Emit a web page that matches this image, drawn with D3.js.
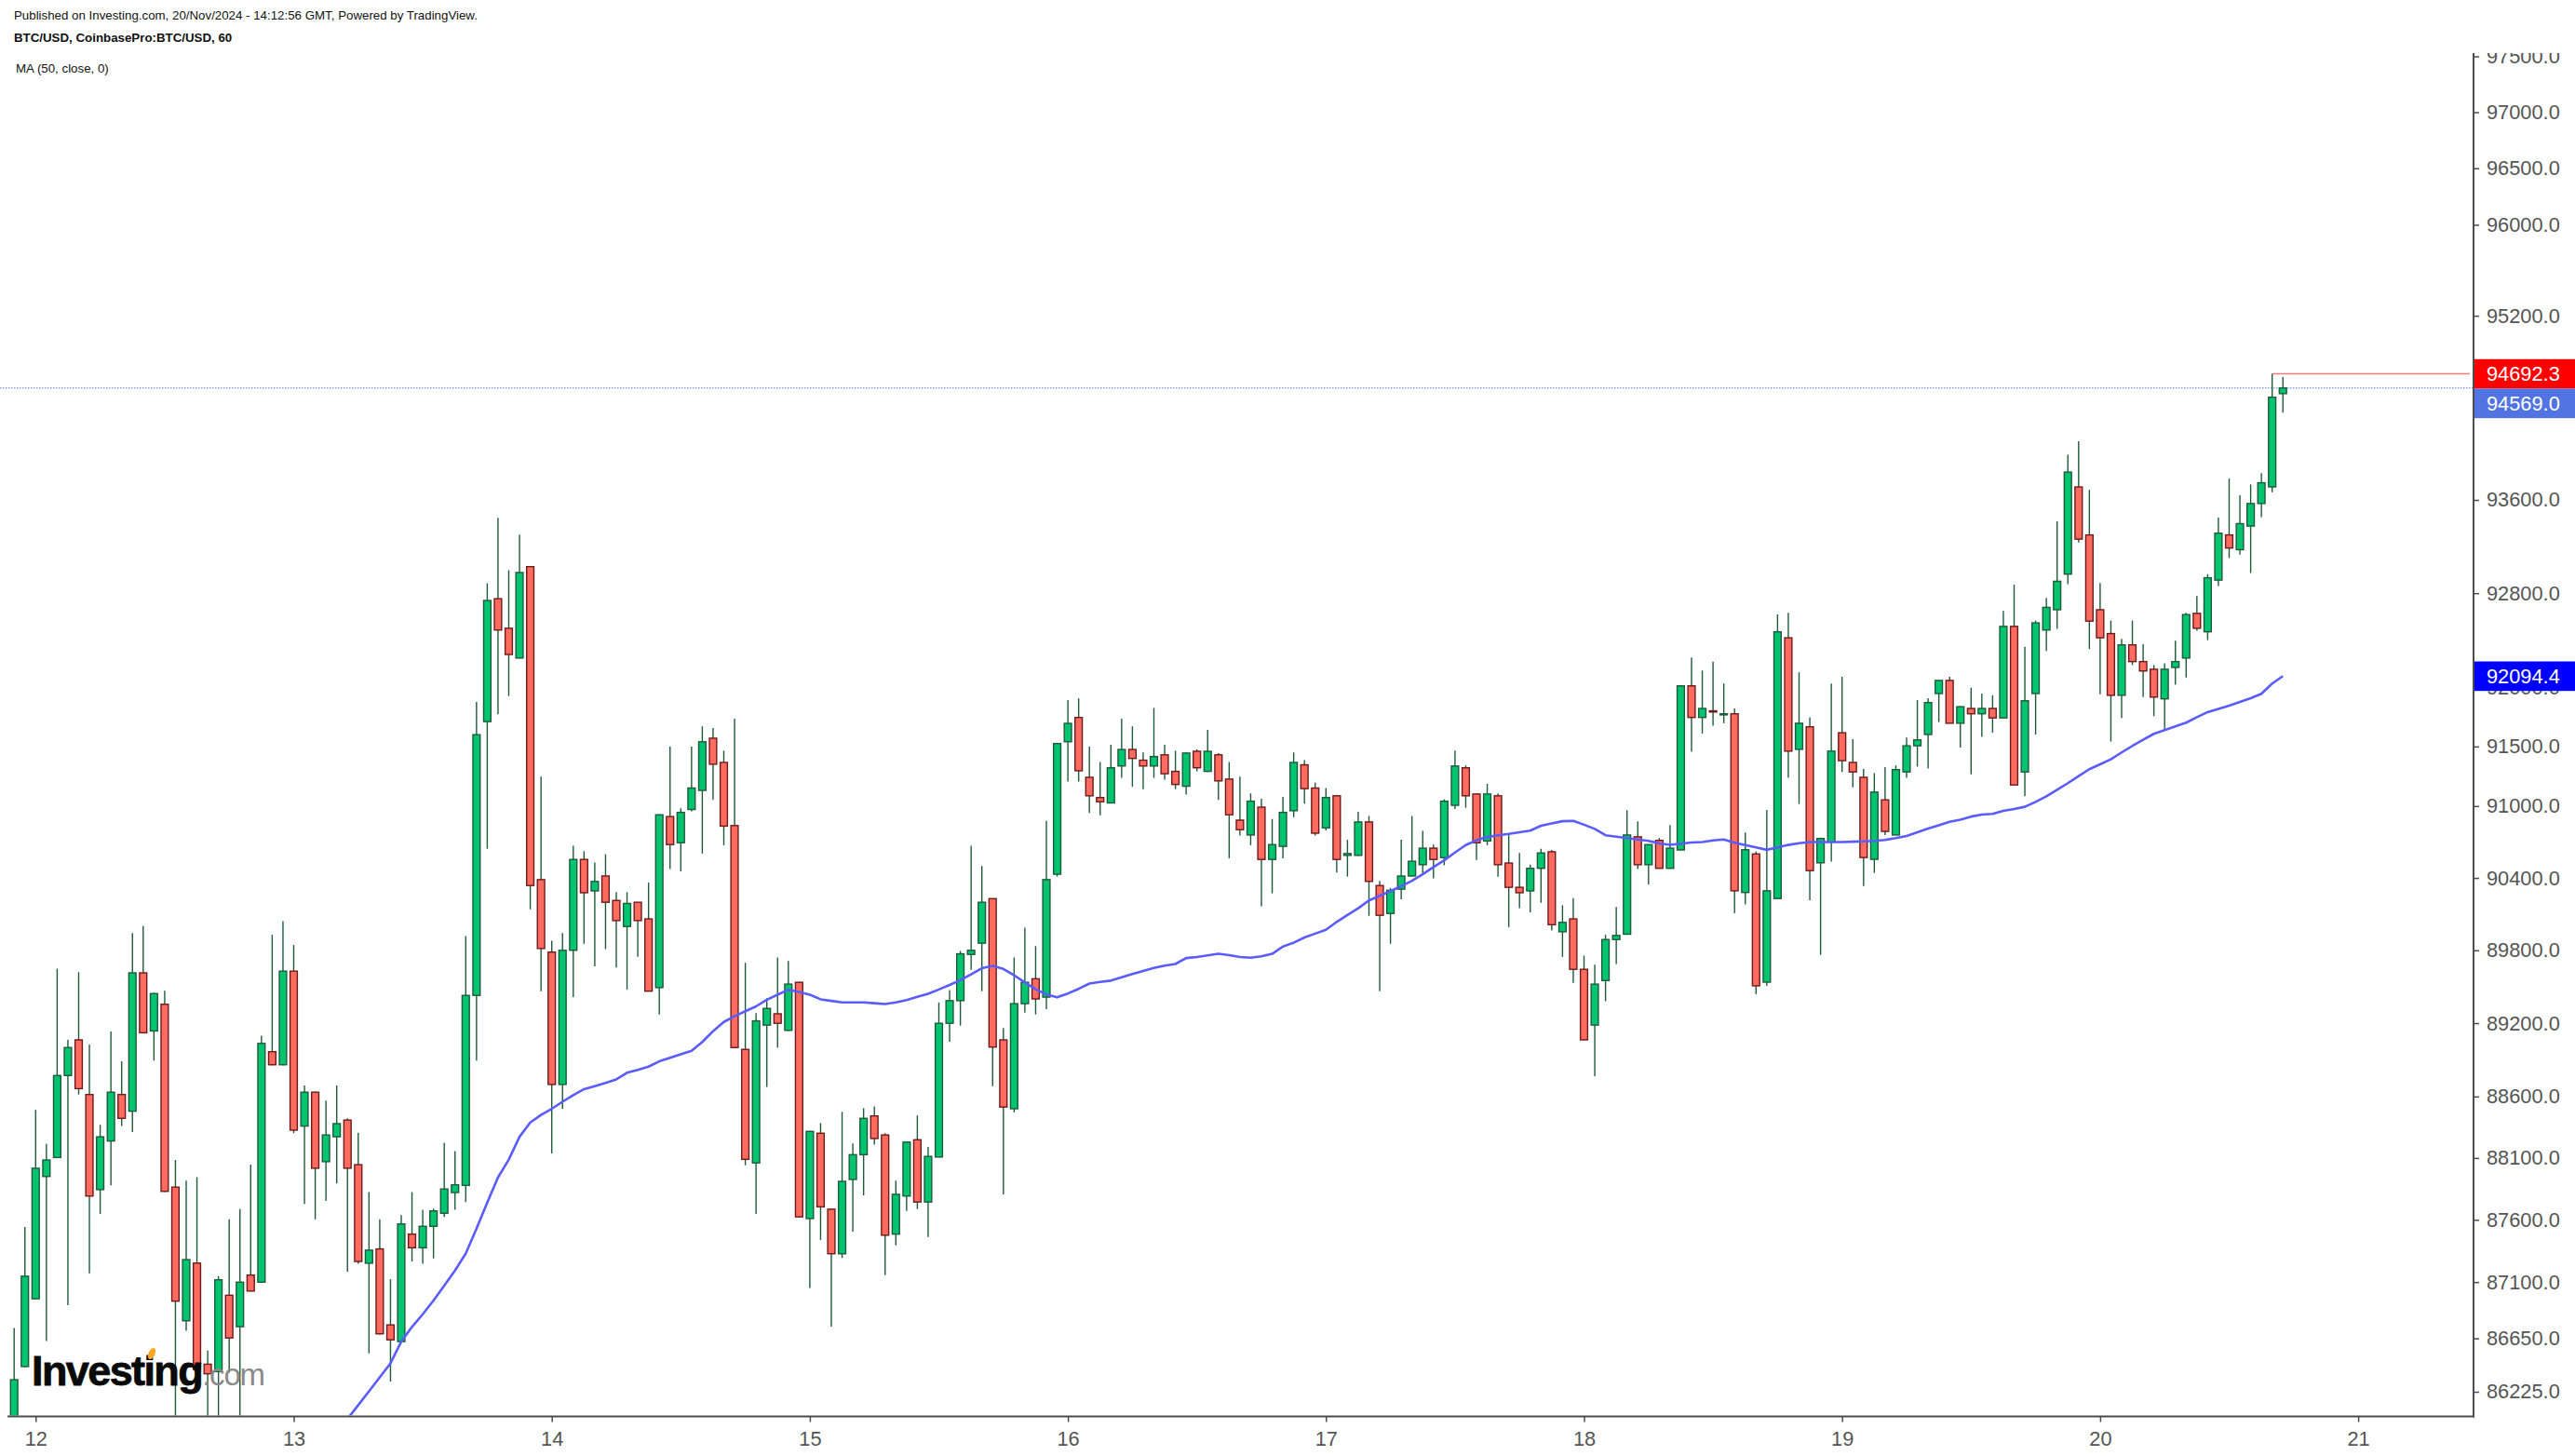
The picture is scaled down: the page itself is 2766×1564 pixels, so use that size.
<!DOCTYPE html>
<html><head><meta charset="utf-8">
<script src="https://cdn.jsdelivr.net/npm/d3@7"></script>
<style>body{margin:0;background:#fff;} svg{display:block;}</style>
</head><body>
<svg id="chart" width="2766" height="1564"></svg>
<script>
// ---------- DATA (BTC/USD hourly candles) ----------
const openP = [85980,86425,86966,87950,88104,88771,89063,88616,87844,88238,
88616,88480,89614,89136,89355,87864,86790,87252,86444,86385,
86994,86743,87156,87099,88966,88859,89628,88359,88635,88070,
88272,88408,88046,87251,87366,86757,86624,87485,87375,87548,
87653,87820,87878,89428,91710,92753,92501,92248,93027,90386,
89785,88698,89800,90554,90292,90416,90213,89997,90198,90060,
89492,90912,90693,90971,91131,91570,91366,90837,88985,88060,
89184,89277,89141,89536,87610,88301,87686,87327,87926,88127,
88442,88287,87485,87792,88248,87744,88108,89199,89385,89766,
89859,90228,89063,88500,89360,89565,89414,90431,91540,91745,
91241,91071,91026,91336,91475,91385,91336,91430,91291,91166,
91460,91291,91430,91226,90882,90758,90991,90554,90663,90961,
91346,91151,90817,91086,90588,90588,90867,90337,90105,90307,
90416,90510,90648,90569,91006,91321,91101,90708,91086,90524,
90322,90292,90480,90618,89953,90060,89643,89184,89550,89889,
89933,90743,90510,90713,90480,90633,92012,91745,91801,91771,
91776,90279,90600,89537,90229,92420,91476,91666,90526,90699,
91616,91366,91241,90555,91052,90758,91286,91506,91601,91947,
92058,91696,91821,91776,91821,91741,92517,91286,91947,92486,
92659,92963,93712,93299,92659,92456,91932,92360,92218,92153,
91902,92168,92248,92628,92471,92912,93299,93172,93375,93569,
93712,94520];

const highP = [86733,87543,88490,88214,89648,89063,89619,89024,88369,89131,
88888,89943,90001,89450,89467,88084,87916,87945,86553,87147,
87605,87686,88046,89097,89928,90041,89844,88689,88640,88566,
88689,88422,88306,87825,87605,87123,87638,87825,87681,87691,
88224,88156,89918,91876,92885,93445,92997,93302,93030,91246,
89879,89943,90668,90623,90529,90598,90282,90282,90200,90361,
90930,91500,90981,91500,91670,91655,91465,91735,89697,89282,
89404,89741,89712,89540,88320,88384,87690,88475,88219,88505,
88519,88301,87916,88230,88446,88190,89370,89472,89795,90668,
90500,90230,89160,89741,89987,89835,90877,91530,91891,91906,
91500,91370,91515,91735,91670,91450,91826,91515,91465,91450,
91475,91640,91445,91370,91246,91106,91061,90892,91076,91450,
91385,91196,91151,91090,90718,90952,90917,90376,90317,90718,
90917,90792,90678,91056,91465,91341,91105,91186,91106,90773,
90608,90510,90643,90633,90173,90233,89756,89682,89928,90159,
90966,90872,90680,90733,90842,92015,92253,92142,92218,92032,
91821,90778,90620,90967,92618,92633,92127,91746,90730,92032,
92088,91561,91311,91276,91326,91341,91576,91892,91907,92060,
92088,91840,91997,91947,91932,92648,92872,92344,92567,92760,
93416,93989,94107,93687,92887,92567,92410,92567,92365,92188,
92203,92395,92633,92775,92963,93447,93784,93641,93733,93830,
94692.3,94664];

const lowP = [85900,86420,86960,86629,88100,86914,88616,87170,87648,87878,
88359,88311,89115,88893,87825,86020,86710,86400,86020,86020,
86377,86020,87025,87095,88855,88855,88301,87729,87605,87753,
87893,87184,87246,86530,86680,86307,86620,87265,87246,87289,
87624,87681,87744,88893,90643,91771,91926,92245,90139,89463,
88137,88500,89414,89854,89668,89810,89658,89477,89746,89460,
89272,90475,90455,90956,90603,91051,90673,88995,88041,87648,
88679,89000,89135,87620,87052,87437,86743,87294,87505,87797,
88209,87156,87394,87672,87686,87461,88105,89048,89180,89638,
89463,88684,87806,88471,89287,89272,89316,90411,91205,91205,
90942,90922,91025,91236,91161,91141,91236,91221,91141,91096,
91291,91285,91051,90564,90753,90673,90164,90272,90564,90907,
91021,90753,90797,90445,90411,90585,90085,89463,89854,90223,
90414,90435,90396,90505,90976,90986,90549,90673,90411,89992,
90149,90114,90193,89963,89746,89531,89060,88766,89380,89687,
89930,90475,90346,90478,90478,90630,91455,91610,91675,91696,
90106,90180,89439,89507,90225,91236,91017,90215,89762,90536,
91286,91157,90333,90442,90758,90755,91236,91331,91316,91706,
91695,91491,91266,91581,91616,91740,91175,91082,91601,92309,
92496,92877,93233,92324,91942,91541,91741,92188,91917,91756,
91636,92022,92083,92480,92400,92862,93101,93131,92973,93452,
93666,94354];

const closeP = [86321,87147,88017,88084,88771,89000,88664,87792,88272,88635,
88422,89614,89121,89443,87830,86947,87280,86402,86368,87118,
86653,87099,87028,89034,88859,89628,88326,88635,88017,88287,
88379,88017,87265,87356,86686,86638,87567,87375,87548,87672,
87849,87883,89428,91600,92738,92486,92278,92977,90337,89815,
88698,89800,90554,90277,90371,90198,90046,90188,90046,89463,
90927,90678,90947,91151,91540,91351,90832,89000,88089,89219,
89321,89199,89521,87624,88316,87705,87327,87911,88127,88422,
88258,87476,87806,88229,87744,88113,89199,89385,89771,89800,
90198,89004,88514,89360,89536,89399,90386,91525,91695,91296,
91086,91036,91321,91475,91400,91336,91415,91271,91181,91445,
91321,91460,91211,90927,90802,91041,90554,90678,90947,91366,
91146,90773,91071,90554,90603,90867,90371,90090,90297,90416,
90539,90648,90554,91041,91336,91086,90693,91101,90510,90322,
90277,90480,90608,90012,90031,89643,89063,89521,89889,89923,
90758,90510,90678,90480,90648,92012,91745,91821,91791,91776,
90293,90635,89507,90293,92471,91461,91696,90461,90729,91461,
91381,91286,90570,91117,90788,91306,91506,91556,91871,92058,
91696,91836,91776,91821,91741,92517,91177,91886,92547,92679,
92902,93840,93263,92562,92420,91932,92360,92218,92138,91917,
92153,92218,92618,92501,92932,93314,93187,93396,93569,93748,
94489,94569];

// MA(50, close) values, starting at candle index maStart
const maStart = 29;
const maValues = [85794,85900,86010,86119,86229,86340,86451,86624,86741,86842,
86952,87072,87193,87329,87529,87740,87943,88087,88272,88388,
88450,88500,88557,88611,88660,88685,88711,88740,88794,88817,
88844,88887,88916,88945,88974,89046,89134,89210,89257,89298,
89338,89392,89434,89475,89457,89434,89396,89383,89370,89370,
89370,89364,89357,89370,89389,89416,89442,89477,89514,89554,
89601,89652,89671,89646,89594,89535,89479,89436,89412,89444,
89482,89526,89539,89550,89578,89605,89630,89654,89673,89687,
89736,89745,89758,89771,89760,89745,89739,89751,89771,89831,
89863,89906,89938,89970,90035,90092,90148,90213,90251,90290,
90332,90376,90431,90491,90547,90612,90674,90714,90741,90756,
90767,90781,90794,90835,90855,90873,90876,90844,90809,90756,
90744,90732,90720,90709,90688,90676,90686,90695,90699,90713,
90721,90694,90674,90654,90634,90655,90675,90689,90699,90699,
90699,90699,90702,90705,90709,90717,90732,90750,90780,90812,
90840,90869,90886,90912,90929,90934,90960,90976,90994,91035,
91081,91136,91192,91251,91309,91350,91392,91450,91505,91557,
91607,91638,91669,91701,91747,91790,91818,91845,91876,91908,
91945,92032,92094.4];

const yTickValues = [97500,97000,96500,96000,95200,93600,92800,92000,91500,91000,
  90400,89800,89200,88600,88100,87600,87100,86650,86225];
const xTickDays = [12,13,14,15,16,17,18,19,20,21];
const highMark = 94692.3;   // highest high line
const lastClose = 94569.0;  // last price line
const lastMA = 92094.4;

const headerLines = [
  "Published on Investing.com, 20/Nov/2024 - 14:12:56 GMT, Powered by TradingView.",
  "BTC/USD, CoinbasePro:BTC/USD, 60",
  "MA (50, close, 0)"
];

// ---------- LAYOUT ----------
const W = 2766, H = 1564;
const axisX = 2657, plotTop = 57, plotBottom = 1521.5;
const FONT = "'Liberation Sans', Arial, Helvetica, sans-serif";
const svg = d3.select('#chart');
svg.append('rect').attr('width', W).attr('height', H).attr('fill', '#fff');

const HOUR = 3600e3;
const t0 = Date.UTC(2024, 10, 11, 22);
const times = openP.map((d, i) => new Date(t0 + i * HOUR));
const x = d3.scaleUtc()
  .domain([times[0], times[times.length - 1]])
  .range([15.2, 15.2 + (times.length - 1) * 11.55]);
const y = d3.scaleLog().domain([86225, 97500]).range([1495, 60.5]);

const defs = svg.append('defs');
defs.append('clipPath').attr('id', 'plotClip').append('rect')
  .attr('x', 0).attr('y', plotTop).attr('width', axisX).attr('height', plotBottom - plotTop - 1);
defs.append('clipPath').attr('id', 'axisClip').append('rect')
  .attr('x', axisX).attr('y', plotTop).attr('width', W - axisX).attr('height', plotBottom - plotTop + 20);

// header
const hdr = svg.append('g').attr('font-family', FONT).attr('font-size', 13.3).attr('fill', '#111');
hdr.append('text').attr('x', 15).attr('y', 20.5).text(headerLines[0]);
hdr.append('text').attr('x', 15).attr('y', 45).attr('font-weight', 'bold').text(headerLines[1]);
hdr.append('text').attr('x', 17).attr('y', 78).text(headerLines[2]);

const plot = svg.append('g').attr('clip-path', 'url(#plotClip)');

// last-price dotted line
plot.append('line')
  .attr('x1', 0).attr('x2', axisX).attr('y1', y(lastClose)).attr('y2', y(lastClose))
  .attr('stroke', '#8ea4ea').attr('stroke-width', 1.5).attr('stroke-dasharray', '1.5,1.5');

// highest-high line
const hiIdx = highP.indexOf(highMark);
plot.append('line')
  .attr('x1', x(times[hiIdx])).attr('x2', axisX - 4)
  .attr('y1', y(highMark)).attr('y2', y(highMark))
  .attr('stroke', '#ff7b7b').attr('stroke-width', 1.5);

// candles
const candles = openP.map((o, i) => ({t: times[i], o, h: highP[i], l: lowP[i], c: closeP[i]}));
const bw = 7.8;
const cg = plot.append('g');
cg.selectAll('line.wick').data(candles).join('line')
  .attr('class', 'wick')
  .attr('x1', d => x(d.t)).attr('x2', d => x(d.t))
  .attr('y1', d => y(d.h)).attr('y2', d => y(d.l))
  .attr('stroke', '#1f5b3a').attr('stroke-width', 1.4);
cg.selectAll('rect.body').data(candles).join('rect')
  .attr('class', 'body')
  .attr('x', d => x(d.t) - bw / 2)
  .attr('y', d => y(Math.max(d.o, d.c)))
  .attr('width', bw)
  .attr('height', d => Math.max(1.2, Math.abs(y(d.o) - y(d.c))))
  .attr('fill', d => d.c >= d.o ? '#00c46f' : '#ff6b5e')
  .attr('stroke', d => d.c >= d.o ? '#1f5b3a' : '#6b1b1b')
  .attr('stroke-width', 1.4);

// MA line
const maLine = d3.line()
  .x((d, i) => x(times[maStart + i]))
  .y(d => y(d));
plot.append('path').datum(maValues)
  .attr('d', maLine).attr('fill', 'none')
  .attr('stroke', '#5a5cff').attr('stroke-width', 2.6).attr('stroke-linejoin', 'round');

// ---------- AXES ----------
const axisColor = '#4d4d4d';
// right axis
const ra = svg.append('g').attr('clip-path', 'url(#axisClip)');
const yAxis = d3.axisRight(y).tickValues(yTickValues).tickSize(6).tickPadding(8)
  .tickFormat(d => d3.format('.1f')(d));
const yAxisG = ra.append('g').attr('transform', `translate(${axisX},0)`).call(yAxis);
yAxisG.select('.domain').remove();
yAxisG.selectAll('.tick line').attr('stroke', axisColor).attr('stroke-width', 1.5);
yAxisG.selectAll('.tick text').attr('font-family', FONT).attr('font-size', 21.8)
  .attr('fill', '#555').attr('x', 14);
svg.append('line').attr('x1', axisX).attr('x2', axisX).attr('y1', plotTop).attr('y2', plotBottom + 1)
  .attr('stroke', axisColor).attr('stroke-width', 2);

// bottom axis
const xAxis = d3.axisBottom(x)
  .tickValues(xTickDays.map(d => new Date(Date.UTC(2024, 10, d))))
  .tickSize(6).tickPadding(10)
  .tickFormat(d3.utcFormat('%-d'));
const xAxisG = svg.append('g').attr('transform', `translate(0,${plotBottom})`).call(xAxis);
xAxisG.select('.domain').remove();
xAxisG.selectAll('.tick line').attr('stroke', axisColor).attr('stroke-width', 1.5);
xAxisG.selectAll('.tick text').attr('font-family', FONT).attr('font-size', 21.8).attr('fill', '#555');
svg.append('line').attr('x1', 8).attr('x2', axisX + 1).attr('y1', plotBottom).attr('y2', plotBottom)
  .attr('stroke', axisColor).attr('stroke-width', 2);

// price labels on axis
function priceLabel(cy, fill, txt) {
  const g = svg.append('g');
  g.append('rect').attr('x', axisX + 1).attr('y', cy - 15.8).attr('width', W - axisX).attr('height', 31.7).attr('fill', fill);
  g.append('text').attr('x', axisX + 14).attr('y', cy).attr('dy', '0.35em')
    .attr('font-family', FONT).attr('font-size', 21.8).attr('fill', '#fff').text(txt);
}
const hiY = y(highMark);
priceLabel(hiY, '#ff0000', d3.format('.1f')(highMark));
priceLabel(hiY + 31.7, '#5174e2', d3.format('.1f')(lastClose));
priceLabel(y(lastMA), '#0000ff', d3.format('.1f')(lastMA));

// Investing.com watermark
const logo = svg.append('g').attr('font-family', FONT);
const lt = logo.append('text').attr('x', 34).attr('y', 1488);
lt.append('tspan').attr('font-size', 45).attr('font-weight', 'bold').attr('fill', '#0a0a0a')
  .attr('stroke', '#0a0a0a').attr('stroke-width', 0.8)
  .attr('letter-spacing', -1.6).text('Investing');
lt.append('tspan').attr('font-size', 33).attr('fill', '#8a8a8a').attr('letter-spacing', -1.2).text('.com');
logo.append('ellipse').attr('cx', 163).attr('cy', 1454).attr('rx', 3.4).attr('ry', 6.5)
  .attr('transform', 'rotate(25,163,1454)').attr('fill', '#f5a623');
</script>
</body></html>
